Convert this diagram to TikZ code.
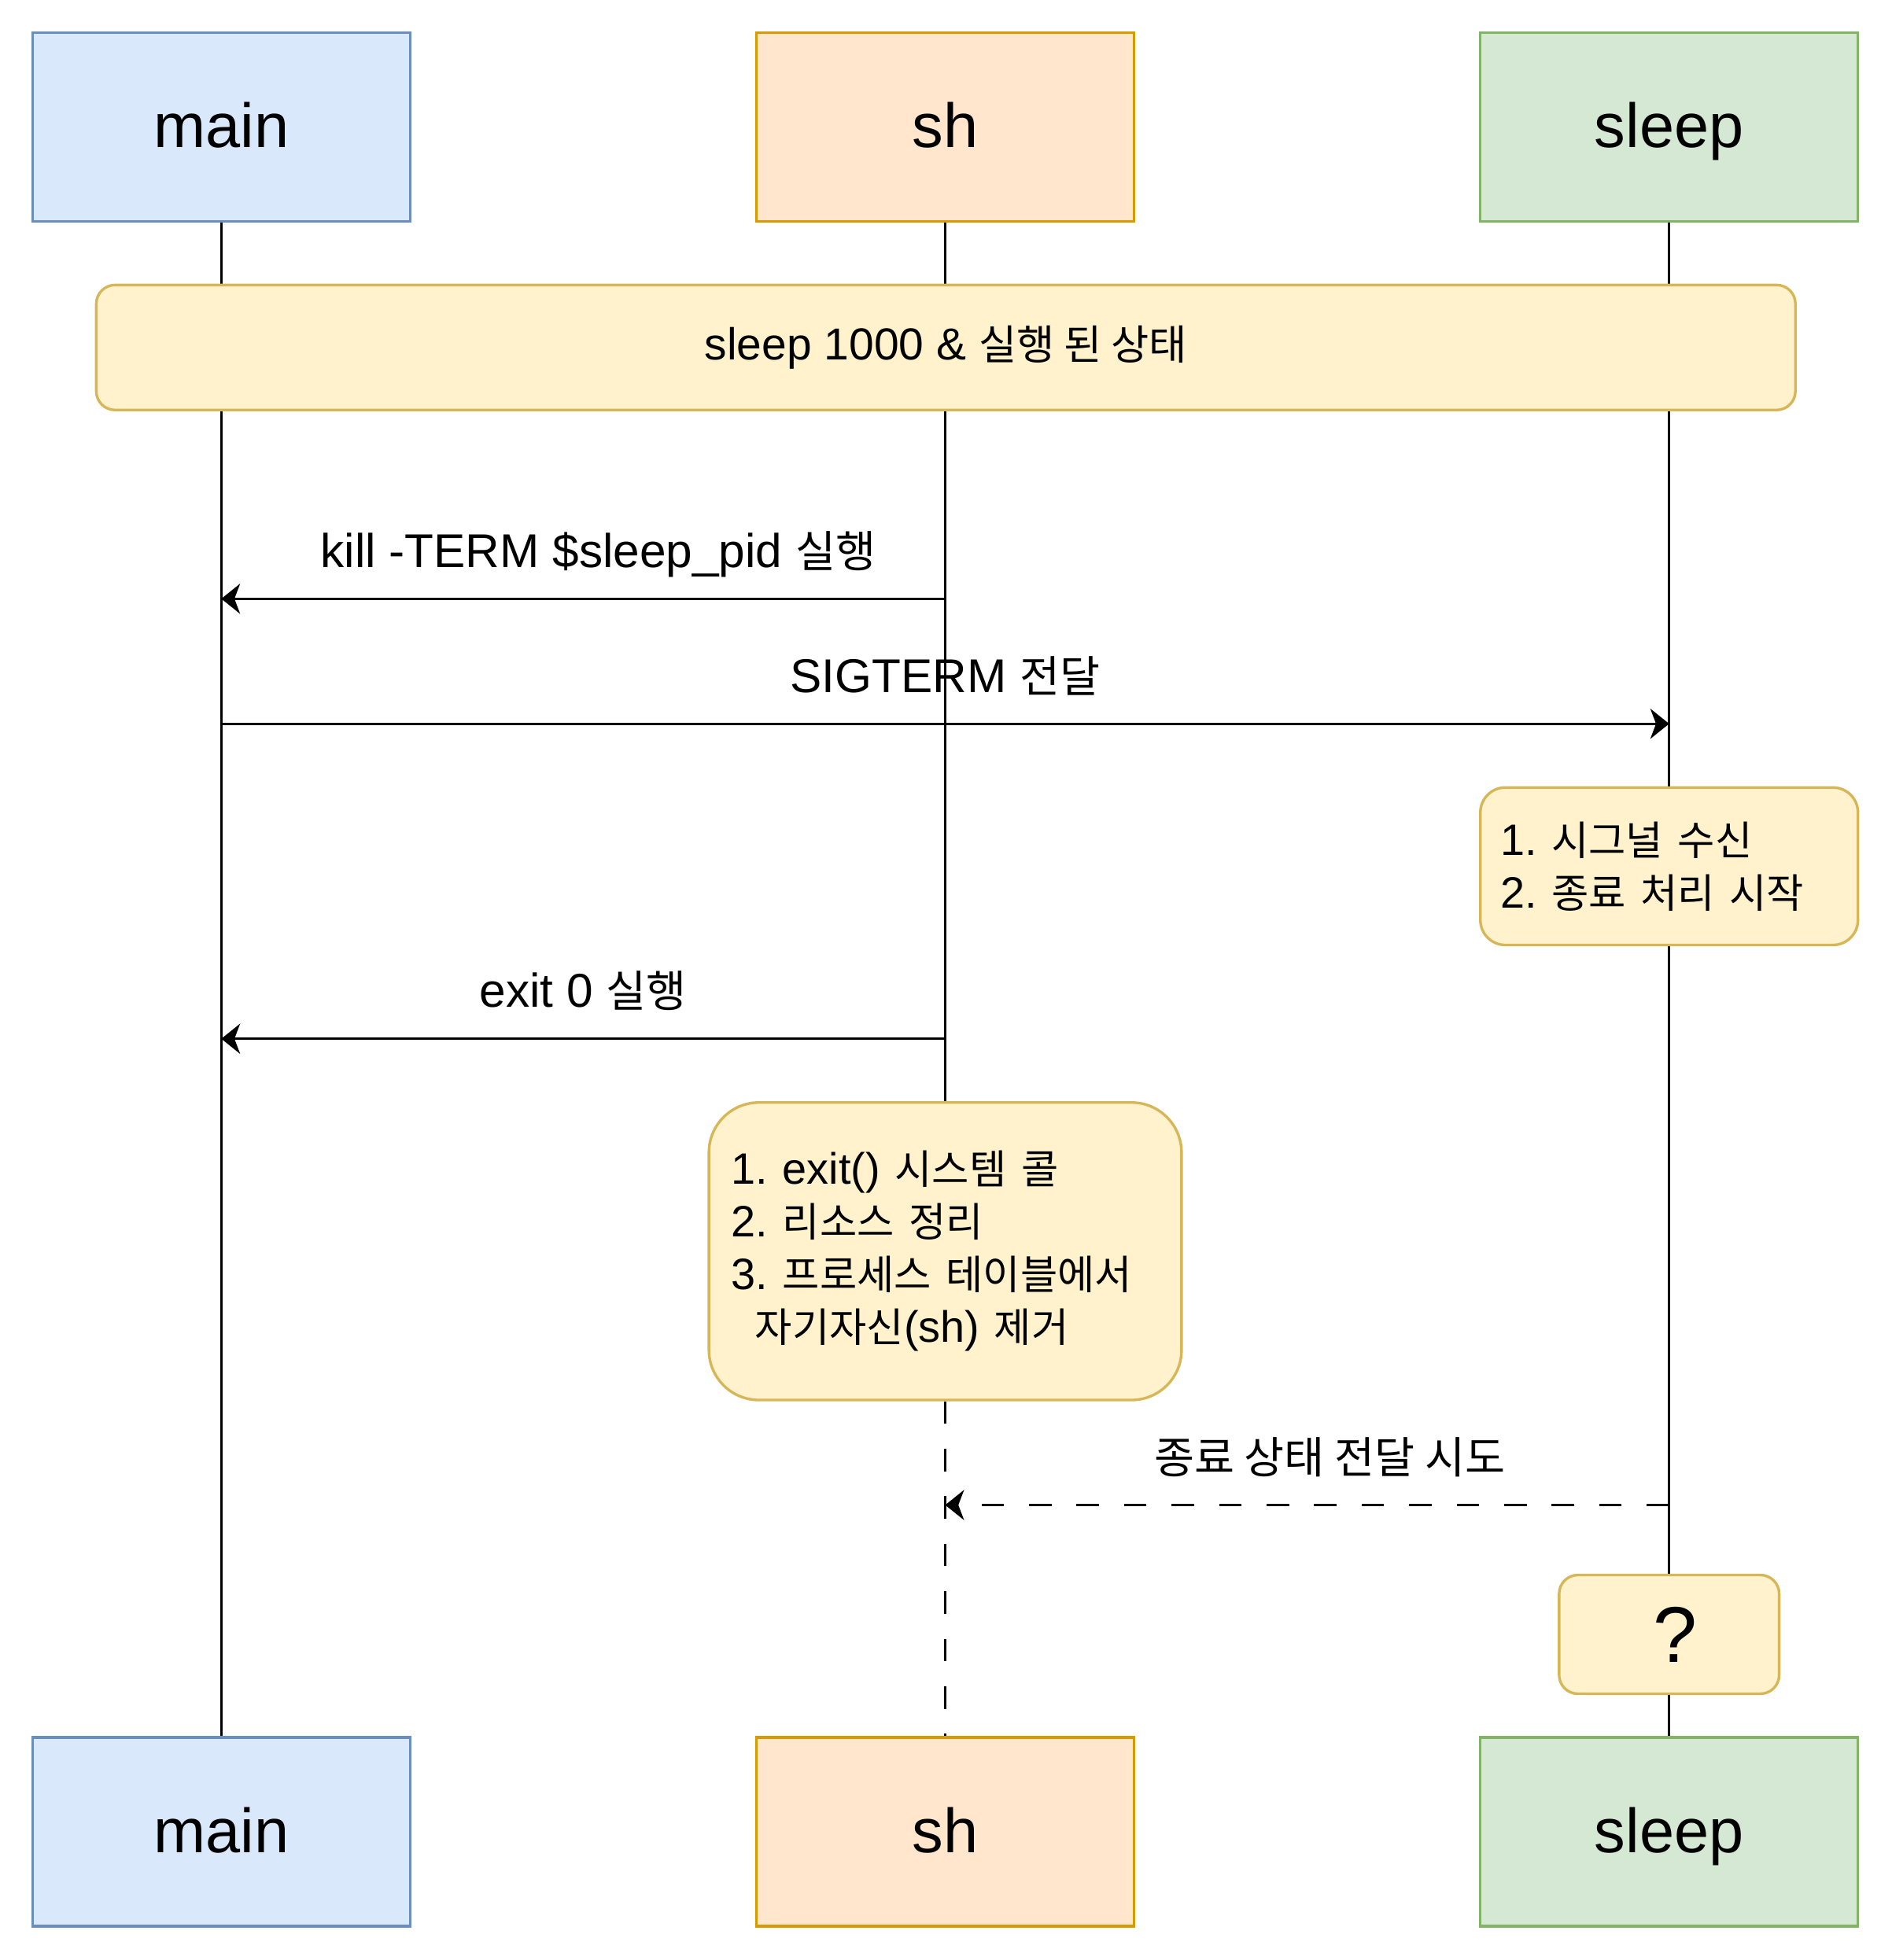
\documentclass[tikz,border=0pt]{standalone}
\usepackage{fontspec}
\setmainfont{Liberation Sans}
\newfontfamily\kr{Noto Sans CJK KR}[Scale=0.92]
\usepackage{xcolor}
\usepackage{tikz}
\usetikzlibrary{arrows.meta,positioning}
\frenchspacing

\definecolor{mainfill}{HTML}{DAE8FC}
\definecolor{maindraw}{HTML}{6C8EBF}
\definecolor{shfill}{HTML}{FFE6CC}
\definecolor{shdraw}{HTML}{D79B00}
\definecolor{sleepfill}{HTML}{D5E8D4}
\definecolor{sleepdraw}{HTML}{82B366}
\definecolor{notefill}{HTML}{FFF2CC}
\definecolor{notedraw}{HTML}{D6B656}

\pgfdeclarelayer{bg}
\pgfsetlayers{bg,main}

\tikzset{
    actor/.style={draw, line width=0.6pt, minimum width=3.02cm, minimum height=1.51cm,
        text height=0.45cm, text depth=0.12cm, font=\fontsize{14.2}{17}\selectfont},
    mainbox/.style={actor, fill=mainfill, draw=maindraw},
    shbox/.style={actor, fill=shfill, draw=shdraw},
    sleepbox/.style={actor, fill=sleepfill, draw=sleepdraw},
    note/.style={draw=notedraw, fill=notefill, line width=0.6pt, rounded corners=0.15cm,
        font=\fontsize{10}{12}\selectfont},
    msg/.style={-{Stealth[length=0.15cm,width=0.24cm,inset=0.045cm]}, line width=0.6pt},
    lbl/.style={midway, anchor=base, yshift=0.25cm, font=\fontsize{10.8}{13}\selectfont},
    life/.style={line width=0.6pt},
    dashline/.style={dash pattern=on 0.18cm off 0.2cm},
}

\begin{document}
\begin{tikzpicture}
    \useasboundingbox (0,0) rectangle (15.13,-15.68);
    % participants
    \node[mainbox] (main) at (1.77,-1.015) {main};
    \node[shbox] (sh) at (7.56,-1.015) {sh};
    \node[sleepbox] (sleep) at (13.35,-1.015) {sleep};
    \node[mainbox] (mainB) at (1.77,-14.655) {main};
    \node[shbox] (shB) at (7.56,-14.655) {sh};
    \node[sleepbox] (sleepB) at (13.35,-14.655) {sleep};
    % notes
    \node[note, minimum width=13.59cm, minimum height=1cm,
        font=\fontsize{10.2}{12}\selectfont] (state) at (7.565,-2.78)
        {sleep 1000 \& {\kr 실행 된 상태}};
    \node[note, rounded corners=0.2cm, minimum width=3.02cm, minimum height=1.26cm,
        text width=2.7cm, inner xsep=0.16cm, align=left] (signote) at (13.35,-6.93)
        {1. {\kr 시그널 수신}\\2. {\kr 종료 처리 시작}};
    \node[note, rounded corners=0.4cm, minimum width=3.78cm, minimum height=2.38cm,
        text width=3.42cm, inner xsep=0.18cm, align=left] (exitnote) at (7.56,-10.01)
        {1. exit() {\kr 시스템 콜}\\2. {\kr 리소스 정리}\\3. {\kr 프로세스 테이블에서}\\
         \hspace*{0.19cm}{\kr 자기자신}(sh) {\kr 제거}};
    \node[note, minimum width=1.76cm, minimum height=0.95cm,
        font=\fontsize{18}{20}\selectfont] (unknown) at (13.35,-13.075)
        {\hspace*{0.1cm}?};
    % lifelines
    \begin{pgfonlayer}{bg}
        \draw[life] (main.south) -- (mainB.north);
        \draw[life] (sh.south) -- (exitnote.north);
        \draw[life, dashline] (exitnote.south) -- (shB.north);
        \draw[life] (sleep.south) -- (sleepB.north);
    \end{pgfonlayer}
    % messages
    \coordinate (kill0) at (7.56,-4.79);
    \coordinate (kill1) at (1.77,-4.79);
    \coordinate (term0) at (1.77,-5.79);
    \coordinate (term1) at (13.35,-5.79);
    \coordinate (exit0) at (7.56,-8.31);
    \coordinate (exit1) at (1.77,-8.31);
    \coordinate (ret0) at (13.35,-12.04);
    \coordinate (ret1) at (7.56,-12.04);
    \draw[msg] (kill0) -- (kill1) node[lbl, xshift=0.12cm] {kill -TERM \$sleep\_pid {\kr 실행}};
    \draw[msg] (term0) -- (term1) node[lbl] {SIGTERM {\kr 전달}};
    \draw[msg] (exit0) -- (exit1) node[lbl] {exit 0 {\kr 실행}};
    \draw[msg, dashline] (ret0) -- (ret1) node[lbl, xshift=0.18cm] {\kr 종료 상태 전달 시도};
\end{tikzpicture}
\end{document}
